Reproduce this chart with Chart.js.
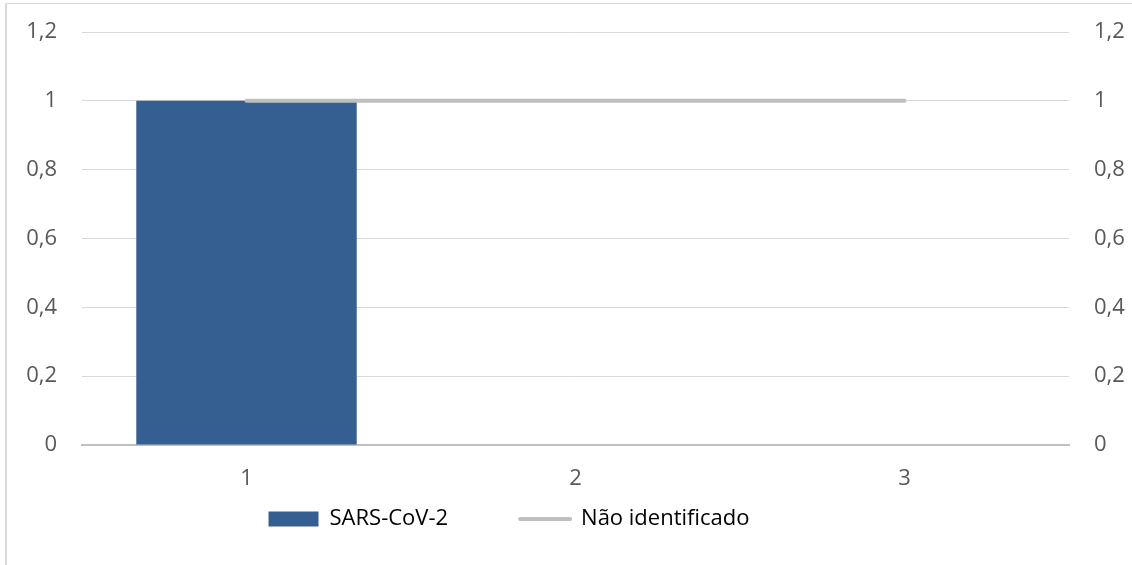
<!DOCTYPE html>
<html>
<head>
<meta charset="utf-8">
<script src="https://cdn.jsdelivr.net/npm/chart.js@4"></script>
<style>
    html, body { margin: 0; padding: 0; background: #fff; overflow: hidden; }
    #wrap { position: relative; width: 1132px; height: 565px; }
    #frame { position: absolute; left: 5px; top: 3px; width: 1200px; height: 700px;
             border-left: 2px solid #d9d9d9; border-top: 1px solid #d9d9d9; pointer-events: none; }
    canvas { position: absolute; left: 0; top: 0; }
</style>
</head>
<body>
<div id="wrap">
    <canvas id="chartVirus" width="1132" height="565"></canvas>
    <div id="frame"></div>
</div>
<script>
const categories = ['1', '2', '3'];
const sarsValues = [1, 0, 0];
const naoIdentValues = [1, 1, 1];
const tickValues = [0, 0.2, 0.4, 0.6, 0.8, 1, 1.2];

const fontFamily = '"Open Sans", "Noto Sans", sans-serif';
const txtColor = '#595959';
const fmt = (v) => String(Math.round(v * 10) / 10).replace('.', ',');

// legend is centred a bit left of the canvas middle, like in the excel export
const legendShift = {
    id: 'legendShift',
    afterLayout(chart) {
        const lg = chart.legend;
        if (!lg) return;
        lg.left -= 57;
        lg.right -= 57;
        lg.top = 519 - lg.options.labels.padding - 11;
    }
};

// fixed axis width, and don't let the tick padding push the plot area down
const fitY = (w) => (s) => {
    s.width = w;
    s.paddingTop = 12;
    s.paddingBottom = 12;
};

const ctx = document.getElementById('chartVirus');
const myChart = new Chart(ctx, {
    data: {
        labels: categories,
        datasets: [
            {
                type: 'line',
                label: 'Não identificado',
                data: naoIdentValues,
                yAxisID: 'y1',
                borderColor: '#bfbfbf',
                borderWidth: 4,
                borderCapStyle: 'round',
                pointRadius: 0,
                order: 0
            },
            {
                type: 'bar',
                label: 'SARS-CoV-2',
                data: sarsValues,
                yAxisID: 'y',
                backgroundColor: '#365f91',
                barPercentage: 0.67,
                categoryPercentage: 1,
                order: 1
            }
        ]
    },
    options: {
        responsive: false,
        animation: false,
        layout: { padding: { top: 32, left: 0, right: 0, bottom: 30 } },
        scales: {
            x: {
                grid: { display: false, drawTicks: false },
                border: { color: '#bfbfbf', width: 2 },
                ticks: { color: txtColor, font: { family: fontFamily, size: 22 }, padding: 21 },
                afterFit: (s) => { s.height = 50; }
            },
            y: {
                position: 'left',
                min: 0, max: 1.2,
                afterBuildTicks: (s) => { s.ticks = tickValues.map(v => ({ value: v })); },
                grid: { color: '#d9d9d9', lineWidth: 1, drawTicks: false },
                border: { display: false },
                ticks: { color: txtColor, font: { family: fontFamily, size: 22 }, padding: 25, callback: fmt },
                afterFit: fitY(82)
            },
            y1: {
                position: 'right',
                min: 0, max: 1.2,
                afterBuildTicks: (s) => { s.ticks = tickValues.map(v => ({ value: v })); },
                grid: { display: false, drawTicks: false },
                border: { display: false },
                ticks: { color: txtColor, font: { family: fontFamily, size: 22 }, padding: 25, callback: fmt },
                afterFit: fitY(63)
            }
        },
        plugins: {
            tooltip: { enabled: false },
            legend: {
                position: 'bottom',
                maxHeight: 40,
                labels: {
                    color: txtColor,
                    font: { family: fontFamily, size: 22 },
                    usePointStyle: true,
                    pointStyleWidth: 50,
                    boxHeight: 15,
                    padding: 72,
                    generateLabels: (chart) => chart.data.datasets.slice().reverse().map((ds) => ({
                        text: ds.label,
                        datasetIndex: chart.data.datasets.indexOf(ds),
                        fillStyle: ds.type === 'bar' ? ds.backgroundColor : ds.borderColor,
                        strokeStyle: ds.type === 'bar' ? ds.backgroundColor : ds.borderColor,
                        lineWidth: ds.type === 'bar' ? 0 : 4,
                        lineCap: 'round',
                        pointStyle: ds.type === 'bar' ? 'rect' : 'line',
                        hidden: false
                    }))
                }
            }
        }
    },
    plugins: [legendShift]
});
</script>
</body>
</html>
